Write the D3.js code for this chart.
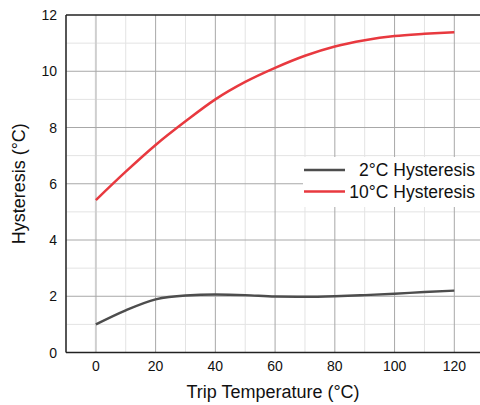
<!DOCTYPE html>
<html>
<head>
<meta charset="utf-8">
<script src="https://cdn.jsdelivr.net/npm/d3@7"></script>
<style>
  body { margin: 0; background: #fff; }
  svg { display: block; font-family: "Liberation Sans", Arial, sans-serif; }
</style>
</head>
<body>
<svg id="chart" width="480" height="405"></svg>
<script>
// trip temperature (°C)
var temps = [0, 10, 20, 30, 40, 50, 60, 70, 80, 90, 100, 110, 120]
// hysteresis readings (°C)
var hyst2 = [1.0, 1.5, 1.89, 2.03, 2.06, 2.04, 1.99, 1.98, 2.0, 2.04, 2.09, 2.15, 2.2]
var hyst10 = [5.42, 6.43, 7.38, 8.22, 9.0, 9.62, 10.12, 10.55, 10.88, 11.1, 11.25, 11.33, 11.39]
var seriesNames = ["2°C Hysteresis", "10°C Hysteresis"]
var xTicks = [0, 20, 40, 60, 80, 100, 120]
var yTicks = [0, 2, 4, 6, 8, 10, 12]

var svg = d3.select("#chart")

var pLeft = 66, pRight = 480, pTop = 15, pBottom = 352.5

var x = d3.scaleLinear().domain([-10, 128.6]).range([pLeft, pRight])
var y = d3.scaleLinear().domain([0, 12]).range([pBottom, pTop])

// minor grid
svg.append("g").selectAll("line")
    .data(d3.range(-10, 129, 10).filter(d => d % 20 != 0))
    .join("line")
    .attr("x1", d => x(d)).attr("x2", d => x(d))
    .attr("y1", pTop).attr("y2", pBottom)
    .style("stroke", "#e3e3e3").style("stroke-width", 1)

svg.append("g").selectAll("line")
    .data(d3.range(1, 12, 2))
    .join("line")
    .attr("x1", pLeft).attr("x2", pRight)
    .attr("y1", d => y(d)).attr("y2", d => y(d))
    .style("stroke", "#e3e3e3").style("stroke-width", 1)

// major grid
svg.append("g").selectAll("line")
    .data(xTicks)
    .join("line")
    .attr("x1", d => x(d)).attr("x2", d => x(d))
    .attr("y1", pTop).attr("y2", pBottom)
    .style("stroke", d => d == 0 ? "#cfcfcf" : "#a8a8a8")
    .style("stroke-width", d => d == 0 ? 2 : 1)

svg.append("g").selectAll("line")
    .data(yTicks.slice(1, -1))
    .join("line")
    .attr("x1", pLeft).attr("x2", pRight)
    .attr("y1", d => y(d)).attr("y2", d => y(d))
    .style("stroke", "#a8a8a8").style("stroke-width", 1)

// frame
svg.append("line")
    .attr("x1", pLeft).attr("x2", pRight).attr("y1", pTop).attr("y2", pTop)
    .style("stroke", "#222").style("stroke-width", 1.5)
svg.append("line")
    .attr("x1", pLeft).attr("x2", pRight).attr("y1", pBottom).attr("y2", pBottom)
    .style("stroke", "#222").style("stroke-width", 1.5)
svg.append("line")
    .attr("x1", pLeft).attr("x2", pLeft).attr("y1", pTop).attr("y2", pBottom)
    .style("stroke", "#222").style("stroke-width", 1.5)

// tick labels
svg.append("g").selectAll("text")
    .data(xTicks)
    .join("text")
    .attr("x", d => x(d))
    .attr("y", 371)
    .attr("text-anchor", "middle")
    .style("font-size", "14px")
    .attr("fill", "#111")
    .text(d => d)

svg.append("g").selectAll("text")
    .data(yTicks)
    .join("text")
    .attr("x", 57)
    .attr("y", d => y(d) + 5)
    .attr("text-anchor", "end")
    .style("font-size", "14px")
    .attr("fill", "#111")
    .text(d => d)

// axis titles
svg.append("text")
    .attr("x", (pLeft + pRight) / 2)
    .attr("y", 398)
    .attr("text-anchor", "middle")
    .style("font-size", "18px")
    .attr("fill", "#111")
    .text("Trip Temperature (°C)")

svg.append("text")
    .attr("transform", "translate(25," + ((pTop + pBottom) / 2) + ") rotate(-90)")
    .attr("text-anchor", "middle")
    .style("font-size", "18px")
    .attr("fill", "#111")
    .text("Hysteresis (°C)")

// curves
var colors = ["#4d4d4d", "#e8393f"]
var line = d3.line()
    .x((d, i) => x(temps[i]))
    .y(d => y(d))
    .curve(d3.curveMonotoneX)

;[hyst2, hyst10].forEach((s, k) => {
    svg.append("path")
        .attr("d", line(s))
        .attr("fill", "none")
        .style("stroke", colors[k])
        .style("stroke-width", 2.5)
})

// legend
svg.append("rect")
    .attr("x", 303).attr("y", 157)
    .attr("width", 177).attr("height", 50)
    .attr("fill", "#fff")

seriesNames.forEach((n, k) => {
    var ly = 170 + k * 21.5
    svg.append("line")
        .attr("x1", 304).attr("x2", 345)
        .attr("y1", ly).attr("y2", ly)
        .style("stroke", colors[k])
        .style("stroke-width", 2.5)
    svg.append("text")
        .attr("x", 475)
        .attr("y", ly + 6)
        .attr("text-anchor", "end")
        .style("font-size", "17.5px")
        .attr("fill", "#111")
        .text(n)
})
</script>
</body>
</html>
